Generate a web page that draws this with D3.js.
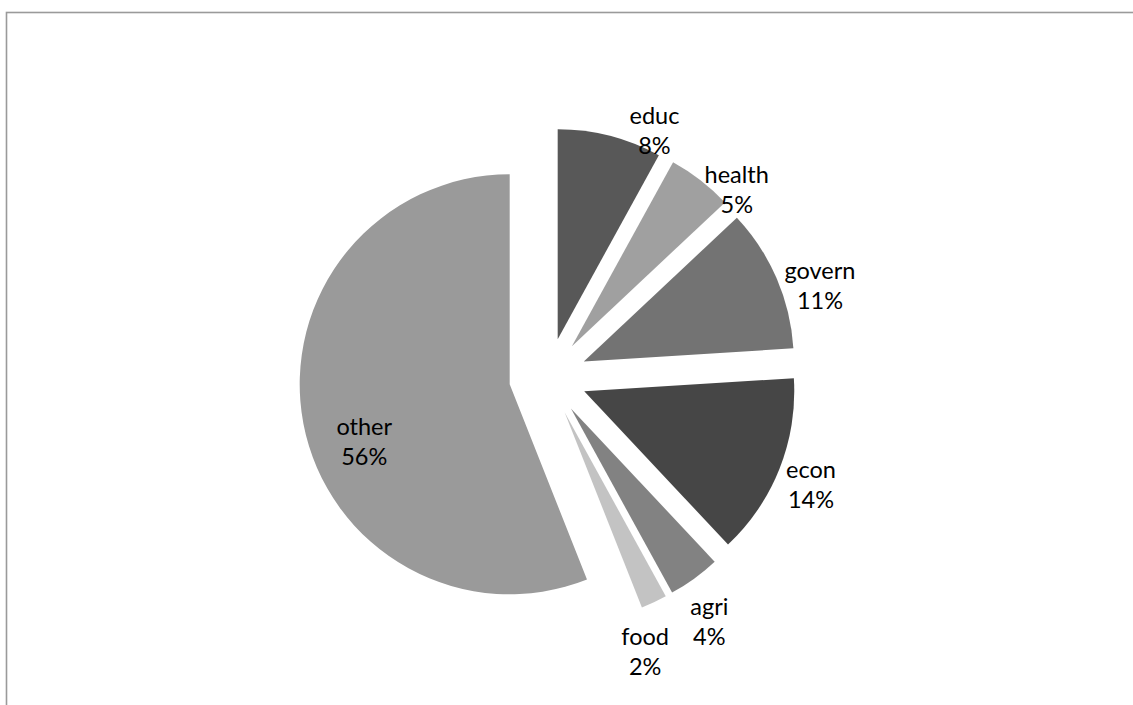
<!DOCTYPE html>
<html>
<head>
<meta charset="utf-8">
<script src="https://cdn.jsdelivr.net/npm/d3@7"></script>
<style>
  html, body { margin: 0; padding: 0; background: #fff; }
  svg { display: block; }
</style>
</head>
<body>
<svg id="chart" width="1133" height="705"></svg>
<script>
// ---- data ----
const categories = ["educ", "health", "govern", "econ", "agri", "food", "other"];
const shares = [8, 5, 11, 14, 4, 2, 56];
const sliceColors = ["#585858", "#a0a0a0", "#737373", "#464646", "#828282", "#c3c3c3", "#9a9a9a"];

// ---- layout ----
const W = 1133, H = 705;
const cx = 548, cy = 377, radius = 210, explode = 39;
const fontSize = 23.5, lineGap = 30;
// label placement: angle offset (deg) from slice mid-angle, distance from pie centre
const labelAngleOffset = [9, 7.4, 4.8, 0.6, 2.6, 5.7, -8.7];
const labelDist = [268, 266, 287, 284, 293, 291, 195];

const svg = d3.select("#chart");

svg.append("rect")
  .attr("x", 6.5).attr("y", 12.5)
  .attr("width", W + 20).attr("height", H + 20)
  .attr("fill", "#fff").attr("stroke", "#9a9a9a").attr("stroke-width", 1.6);

const data = categories.map((c, i) => ({ name: c, value: shares[i], color: sliceColors[i], idx: i }));

const pie = d3.pie().value(d => d.value).sort(null);
const arcs = pie(data);
const arc = d3.arc().innerRadius(0).outerRadius(radius);

const g = svg.append("g").attr("transform", `translate(${cx},${cy})`);

g.selectAll("path.slice")
  .data(arcs)
  .join("path")
  .attr("class", "slice")
  .attr("d", arc)
  .attr("fill", d => d.data.color)
  .attr("transform", d => {
    const a = (d.startAngle + d.endAngle) / 2;
    return `translate(${explode * Math.sin(a)},${-explode * Math.cos(a)})`;
  });

g.selectAll("text.lbl")
  .data(arcs)
  .join("text")
  .attr("class", "lbl")
  .attr("font-family", "Lato, 'Open Sans', sans-serif")
  .attr("font-size", fontSize)
  .attr("fill", "#000")
  .attr("text-anchor", "middle")
  .each(function(d) {
    const i = d.data.idx;
    const a = (d.startAngle + d.endAngle) / 2 + labelAngleOffset[i] * Math.PI / 180;
    const x = labelDist[i] * Math.sin(a);
    const y = -labelDist[i] * Math.cos(a);
    const t = d3.select(this);
    t.append("tspan").attr("x", x).attr("y", y - lineGap / 2).attr("dy", "0.35em").text(d.data.name);
    t.append("tspan").attr("x", x).attr("y", y + lineGap / 2).attr("dy", "0.35em").text(d.data.value + "%");
  });
</script>
</body>
</html>
